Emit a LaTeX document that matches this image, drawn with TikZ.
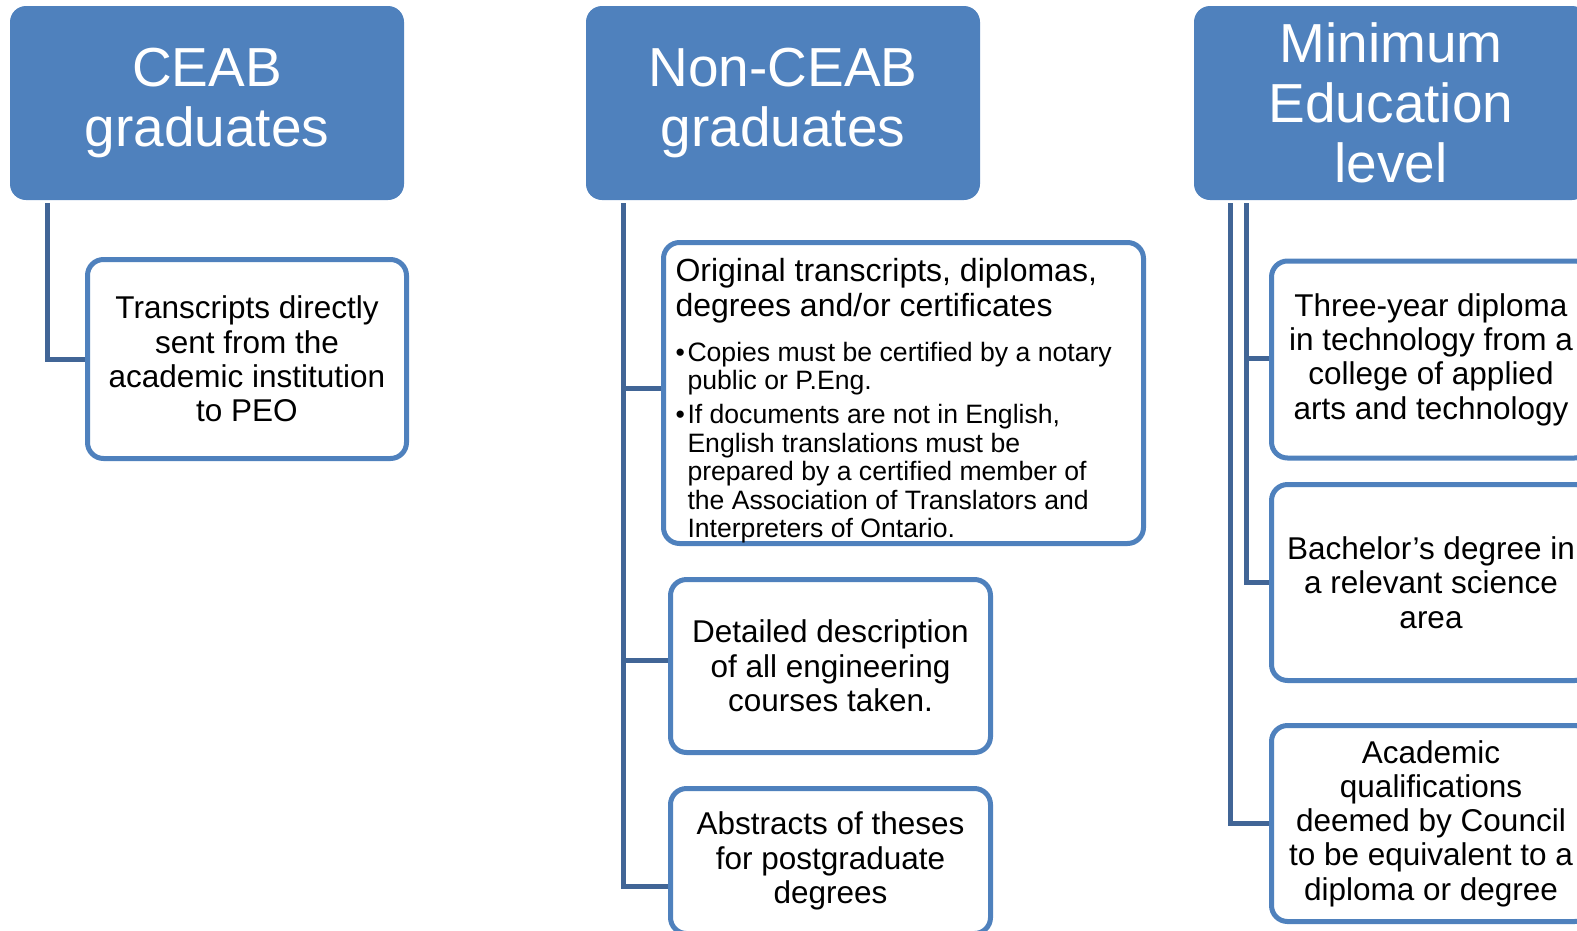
\documentclass[tikz,border=0pt]{standalone}
\usepackage{fontspec}
\setmainfont{Liberation Sans}
\definecolor{hdrblue}{RGB}{79,129,189}
\definecolor{connblue}{RGB}{65,101,150}
\newcommand{\bul}{\makebox[12pt][l]{\textbullet}}
\newcommand{\bulind}{\hspace*{12pt}}
\begin{document}
\begin{tikzpicture}[x=1pt,y=-1pt,
        hdr/.style={fill=hdrblue, rounded corners=16pt, text=white, align=center,
            minimum width=394pt, minimum height=194pt, inner sep=0pt,
            font=\fontsize{55}{60}\selectfont},
        item/.style={draw=hdrblue, line width=5pt, rounded corners=16pt, fill=white,
            align=center, inner sep=0pt, minimum width=319pt,
            font=\fontsize{31.5}{34.3}\selectfont},
        conn/.style={draw=connblue, line width=5pt}]
        \path[use as bounding box, clip] (0,0) rectangle (1577,930);
        \node[hdr] (ceab) at (207,103) {\raisebox{-3pt}{CEAB}\\\raisebox{-3pt}{graduates}};
        \node[hdr] (non) at (783,103) {\raisebox{-3pt}{Non-CEAB}\\\raisebox{-3pt}{graduates}};
        \node[hdr] (min) at (1391,103) {Minimum\\Education\\level};
        \node[item, minimum height=199pt] (transcr) at (247,359) {Transcripts directly\\sent from the\\academic institution\\to PEO};
        \node[item, minimum width=480pt, minimum height=301pt, inner xsep=12pt] (orig) at (903.5,393) {%
            \begin{minipage}{456pt}\raggedright
            \vspace*{16pt}
            {\fontsize{32}{34.3}\selectfont Original transcripts, diplomas,\par degrees and/or certificates\par}
            \vspace{16.5pt}
            {\fontsize{26.6}{28.5}\selectfont\bul Copies must be certified by a notary\par\bulind public or P.Eng.\par}
            \vspace{5.5pt}
            {\fontsize{26.6}{28.5}\selectfont\bul If documents are not in English,\par\bulind English translations must be\par
            \bulind prepared by a certified member of\par\bulind the Association of Translators and\par
            \bulind Interpreters of Ontario.\par}
            \end{minipage}};
        \node[item, minimum width=320pt, minimum height=173pt] (detail) at (830.5,666) {Detailed description\\of all engineering\\courses taken.};
        \node[item, minimum width=320pt, minimum height=145pt] (abstr) at (830.5,861) {Abstracts of theses\\for postgraduate\\degrees};
        \node[item, minimum height=197pt] (diploma) at (1431,359.5) {Three-year diploma\\in technology from a\\college of applied\\arts and technology};
        \node[item, minimum height=196pt] (bachelor) at (1431,582.5) {Bachelor’s degree in\\a relevant science\\area};
        \node[item, minimum height=196pt] (council) at (1431,823.5) {Academic\\qualifications\\deemed by Council\\to be equivalent to a\\diploma or degree};
        % connectors
        \draw[conn] ([xshift=37.5pt,yshift=-3pt]ceab.south west) |- (transcr.west);
        \draw[conn] ([xshift=37.5pt,yshift=-3pt]non.south west) |- ([yshift=5pt]orig.west);
        \draw[conn] ([xshift=37.5pt,yshift=-3pt]non.south west) |- ([yshift=6pt]detail.west);
        \draw[conn] ([xshift=37.5pt,yshift=-3pt]non.south west) |- ([yshift=-25pt]abstr.west);
        \draw[conn] ([xshift=53pt,yshift=-3pt]min.south west) |- ([yshift=1.5pt]diploma.west);
        \draw[conn] ([xshift=53pt,yshift=-3pt]min.south west) |- (bachelor.west);
        \draw[conn] ([xshift=37pt,yshift=-3pt]min.south west) |- (council.west);
\end{tikzpicture}
\end{document}
